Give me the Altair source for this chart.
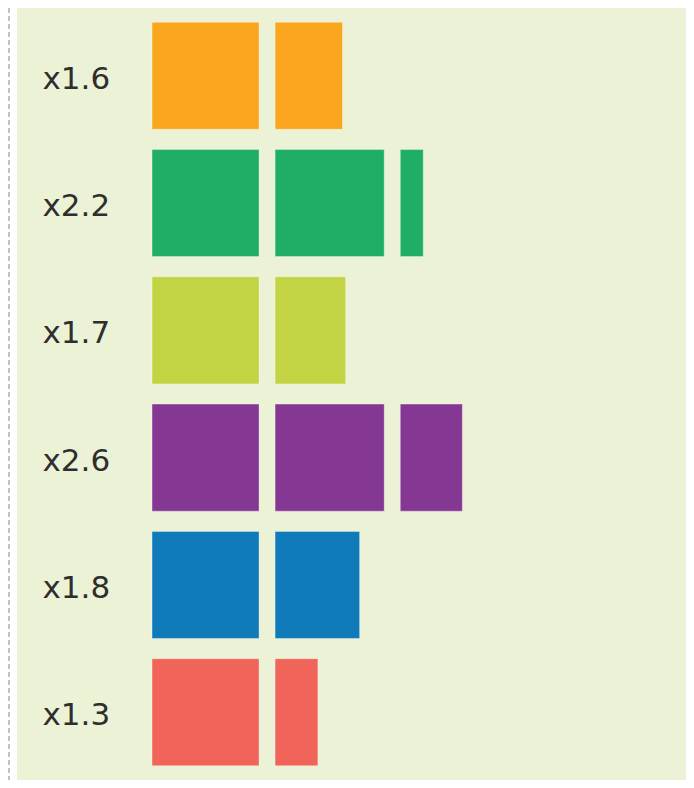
import altair as alt
import pandas as pd

# ---- data ----
labels = ["x1.6", "x2.2", "x1.7", "x2.6", "x1.8", "x1.3"]
colors = ["#FAA61E", "#20AE64", "#C2D443", "#843793", "#0F7BB9", "#F0645A"]
# widths of the blocks in each row, in units of one full square
segments = [
    [1.0, 0.63],
    [1.0, 1.02, 0.215],
    [1.0, 0.66],
    [1.0, 1.02, 0.58],
    [1.0, 0.79],
    [1.0, 0.40],
]

GAP = 0.15  # spacing between blocks (style)

rows = []
for lab, segs in zip(labels, segments):
    start = 0.0
    for i, w in enumerate(segs):
        rows.append({"label": lab, "seg": i, "x0": start, "x1": start + w})
        start += w + GAP
df = pd.DataFrame(rows)

W, H = 669, 772
xdom = [-1.262, -1.262 + W / 107.0]

bars = alt.Chart(df).mark_rect(
    stroke="white", strokeOpacity=0.35, strokeWidth=1
).encode(
    x=alt.X("x0:Q", scale=alt.Scale(domain=xdom, nice=False, zero=False), axis=None),
    x2="x1:Q",
    y=alt.Y(
        "label:N",
        sort=labels,
        scale=alt.Scale(paddingInner=0.159, paddingOuter=0.112),
        axis=alt.Axis(
            title=None,
            domain=False,
            ticks=False,
            tickSize=0,
            grid=False,
            labelAlign="left",
            labelBaseline="middle",
            labelPadding=-25,
            labelOffset=4,
            labelFontSize=31,
            labelFont="DejaVu Sans",
            labelColor="#2E2E2E",
        ),
    ),
    color=alt.Color("label:N", scale=alt.Scale(domain=labels, range=colors), legend=None),
)

rule = alt.Chart(alt.Data(values=[{}])).mark_rule(
    color="#BFC0C8", strokeWidth=2, strokeDash=[5, 3]
).encode(x=alt.value(-8), y=alt.value(-8), y2=alt.value(H))

chart = alt.layer(rule, bars).properties(
    width=W,
    height=H,
    autosize=alt.AutoSizeParams(type="none"),
    padding={"left": 9, "top": 0, "right": 0, "bottom": 0},
).configure(
    background="white",
    view=alt.ViewConfig(fill="#ECF2D6", stroke=None),
)

chart.save("out.html", embed_options={"renderer": "svg", "actions": False})
